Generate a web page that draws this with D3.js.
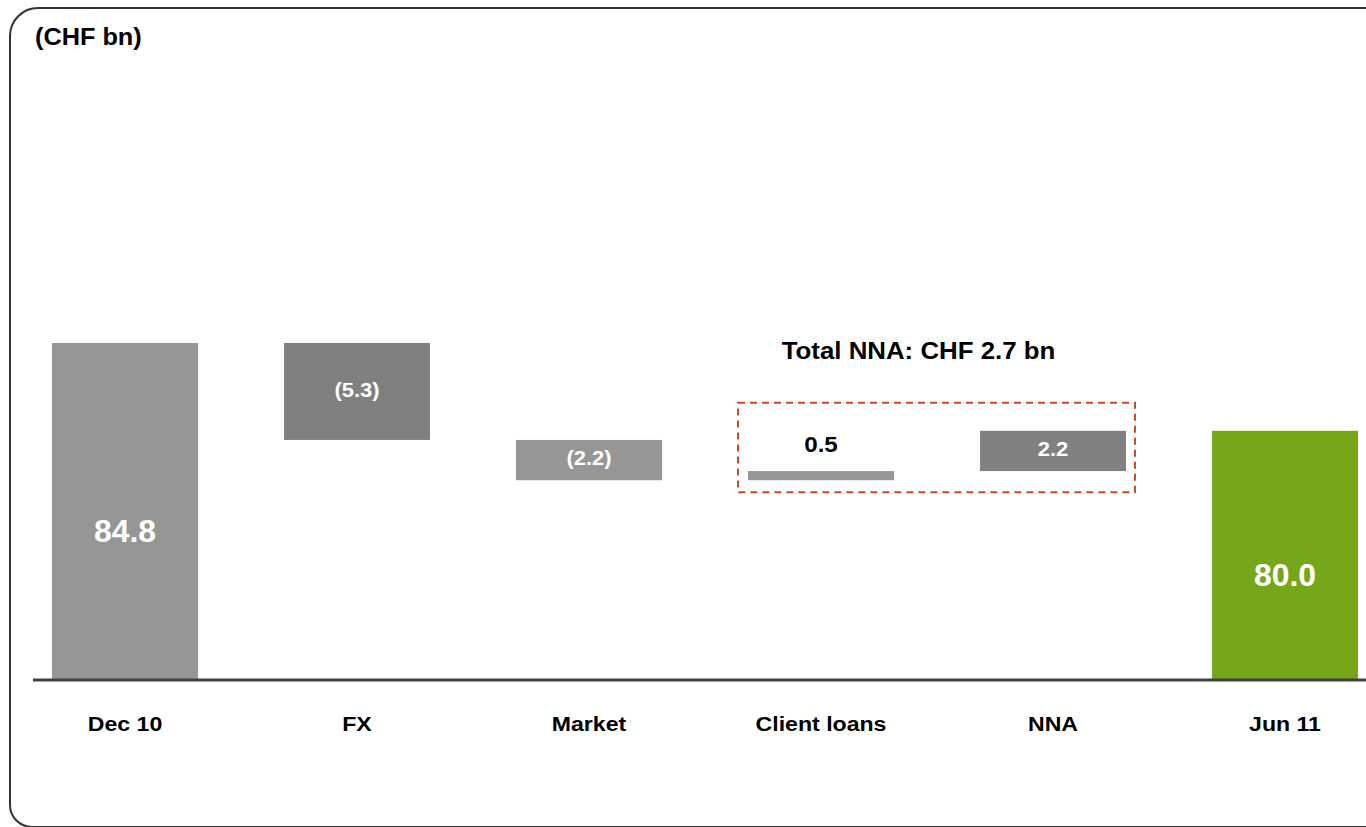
<!DOCTYPE html>
<html>
<head>
<meta charset="utf-8">
<script src="https://cdnjs.cloudflare.com/ajax/libs/d3/7.8.5/d3.min.js"></script>
<style>
  body { margin: 0; background: #fff; }
  svg { display: block; font-family: "Liberation Sans", Arial, sans-serif; font-weight: bold; }
</style>
</head>
<body>
<div id="chart"></div>
<script>
// waterfall of client assets, CHF bn
var categories = ["Dec 10", "FX", "Market", "Client loans", "NNA", "Jun 11"];
var values = [84.8, -5.3, -2.2, 0.5, 2.2, 80.0];
var kinds = ["total", "delta", "delta", "delta", "delta", "total"];
var valueLabels = ["84.8", "(5.3)", "(2.2)", "0.5", "2.2", "80.0"];
var nnaGroup = ["Client loans", "NNA"];
var unitLabel = "(CHF bn)";

var barColors = ["#969696", "#808080", "#969696", "#969696", "#808080", "#76a61a"];

var w = 1366, h = 827,
    baseY = 680;

var svg = d3.select("#chart")
    .append("svg")
        .attr("width", w)
        .attr("height", h);

// frame with rounded left corners, open to the right
svg.append("path")
    .attr("d", "M1370,8 H38 A28,28 0 0 0 10,36 V805 A22,22 0 0 0 32,827 H1370")
    .attr("fill", "none")
    .attr("stroke", "#333")
    .attr("stroke-width", 2);

// build waterfall rows
var running = 0;
var rows = categories.map(function(c, i) {
    var r = {category: c, value: values[i], kind: kinds[i], label: valueLabels[i], color: barColors[i]};
    if (kinds[i] === "total") {
        r.from = 0; r.to = values[i];
        running = values[i];
    } else {
        r.from = running; r.to = running + values[i];
        running = r.to;
    }
    return r;
});

var x = d3.scaleBand()
    .domain(categories)
    .range([52, 1358])
    .paddingInner(0.3707)
    .paddingOuter(0);

// value axis is cut below 76 (not drawn to scale underneath)
var y = d3.scaleLinear()
    .domain([0, 76, 86])
    .range([baseY, 504, 321]);

function stretched(sel, sx) {
    return sel.attr("transform", function(d) {
        return "translate(" + d.tx + "," + d.ty + ") scale(" + sx + ",1)";
    });
}

svg.selectAll(".bar")
    .data(rows)
    .enter().append("rect")
        .attr("class", "bar")
        .attr("x", function(d) { return x(d.category); })
        .attr("width", x.bandwidth())
        .attr("y", function(d) { return y(Math.max(d.from, d.to)); })
        .attr("height", function(d) { return Math.abs(y(d.from) - y(d.to)); })
        .attr("fill", function(d) { return d.color; });

// baseline
svg.append("line")
    .attr("x1", 33).attr("x2", w)
    .attr("y1", baseY).attr("y2", baseY)
    .attr("stroke", "#404040")
    .attr("stroke-width", 3);

// category labels
var catLabels = svg.selectAll(".cat")
    .data(rows.map(function(d) {
        return {text: d.category, tx: x(d.category) + x.bandwidth() / 2, ty: 731};
    }))
    .enter().append("text")
        .attr("class", "cat")
        .attr("text-anchor", "middle")
        .style("font-size", "21px")
        .attr("fill", "#000")
        .text(function(d) { return d.text; });
stretched(catLabels, 1.1);

// value labels
var totals = rows.filter(function(d) { return d.kind === "total"; }).map(function(d) {
    return {text: d.label, tx: x(d.category) + x.bandwidth() / 2, ty: (y(d.from) + y(d.to)) / 2 + 22};
});
stretched(svg.selectAll(".tot").data(totals).enter().append("text")
    .attr("class", "tot")
    .attr("text-anchor", "middle")
    .attr("dominant-baseline", "middle")
    .style("font-size", "31px")
    .attr("fill", "#fff")
    .text(function(d) { return d.text; }), 1.03);

var deltas = rows.filter(function(d) { return d.kind === "delta"; }).map(function(d) {
    var top = y(Math.max(d.from, d.to)), bot = y(Math.min(d.from, d.to));
    var inside = (bot - top) > 30;
    return {
        text: d.label,
        inside: inside,
        tx: x(d.category) + x.bandwidth() / 2,
        ty: inside ? (top + bot) / 2 : top - 25
    };
});
stretched(svg.selectAll(".dlt").data(deltas).enter().append("text")
    .attr("class", "dlt")
    .attr("text-anchor", "middle")
    .attr("dominant-baseline", "middle")
    .style("font-size", function(d) { return d.inside ? "20px" : "22px"; })
    .attr("fill", function(d) { return d.inside ? "#fff" : "#000"; })
    .text(function(d) { return d.text; }), 1.1);

// dashed box around the NNA components
var grp = rows.filter(function(d) { return nnaGroup.indexOf(d.category) >= 0; });
var gx0 = d3.min(grp, function(d) { return x(d.category); }) - 10,
    gx1 = d3.max(grp, function(d) { return x(d.category) + x.bandwidth(); }) + 9,
    gy0 = d3.min(grp, function(d) { return y(Math.max(d.from, d.to)); }) - 28,
    gy1 = d3.max(grp, function(d) { return y(Math.min(d.from, d.to)); }) + 12;

svg.append("rect")
    .attr("x", gx0).attr("y", gy0)
    .attr("width", gx1 - gx0).attr("height", gy1 - gy0)
    .attr("fill", "none")
    .attr("stroke", "#d2471c")
    .attr("stroke-width", 2)
    .attr("stroke-dasharray", "7,5");

var nnaTotal = d3.sum(grp, function(d) { return d.value; });
stretched(svg.selectAll(".grp").data([{text: "Total NNA: CHF " + nnaTotal.toFixed(1) + " bn", tx: (gx0 + gx1) / 2 - 18, ty: gy0 - 44}])
    .enter().append("text")
        .attr("class", "grp")
        .attr("text-anchor", "middle")
        .style("font-size", "23.5px")
        .attr("fill", "#000")
        .text(function(d) { return d.text; }), 1.1);

// unit label
stretched(svg.selectAll(".unit").data([{text: unitLabel, tx: 35, ty: 45}])
    .enter().append("text")
        .attr("class", "unit")
        .style("font-size", "23px")
        .attr("fill", "#000")
        .text(function(d) { return d.text; }), 1.1);
</script>
</body>
</html>
